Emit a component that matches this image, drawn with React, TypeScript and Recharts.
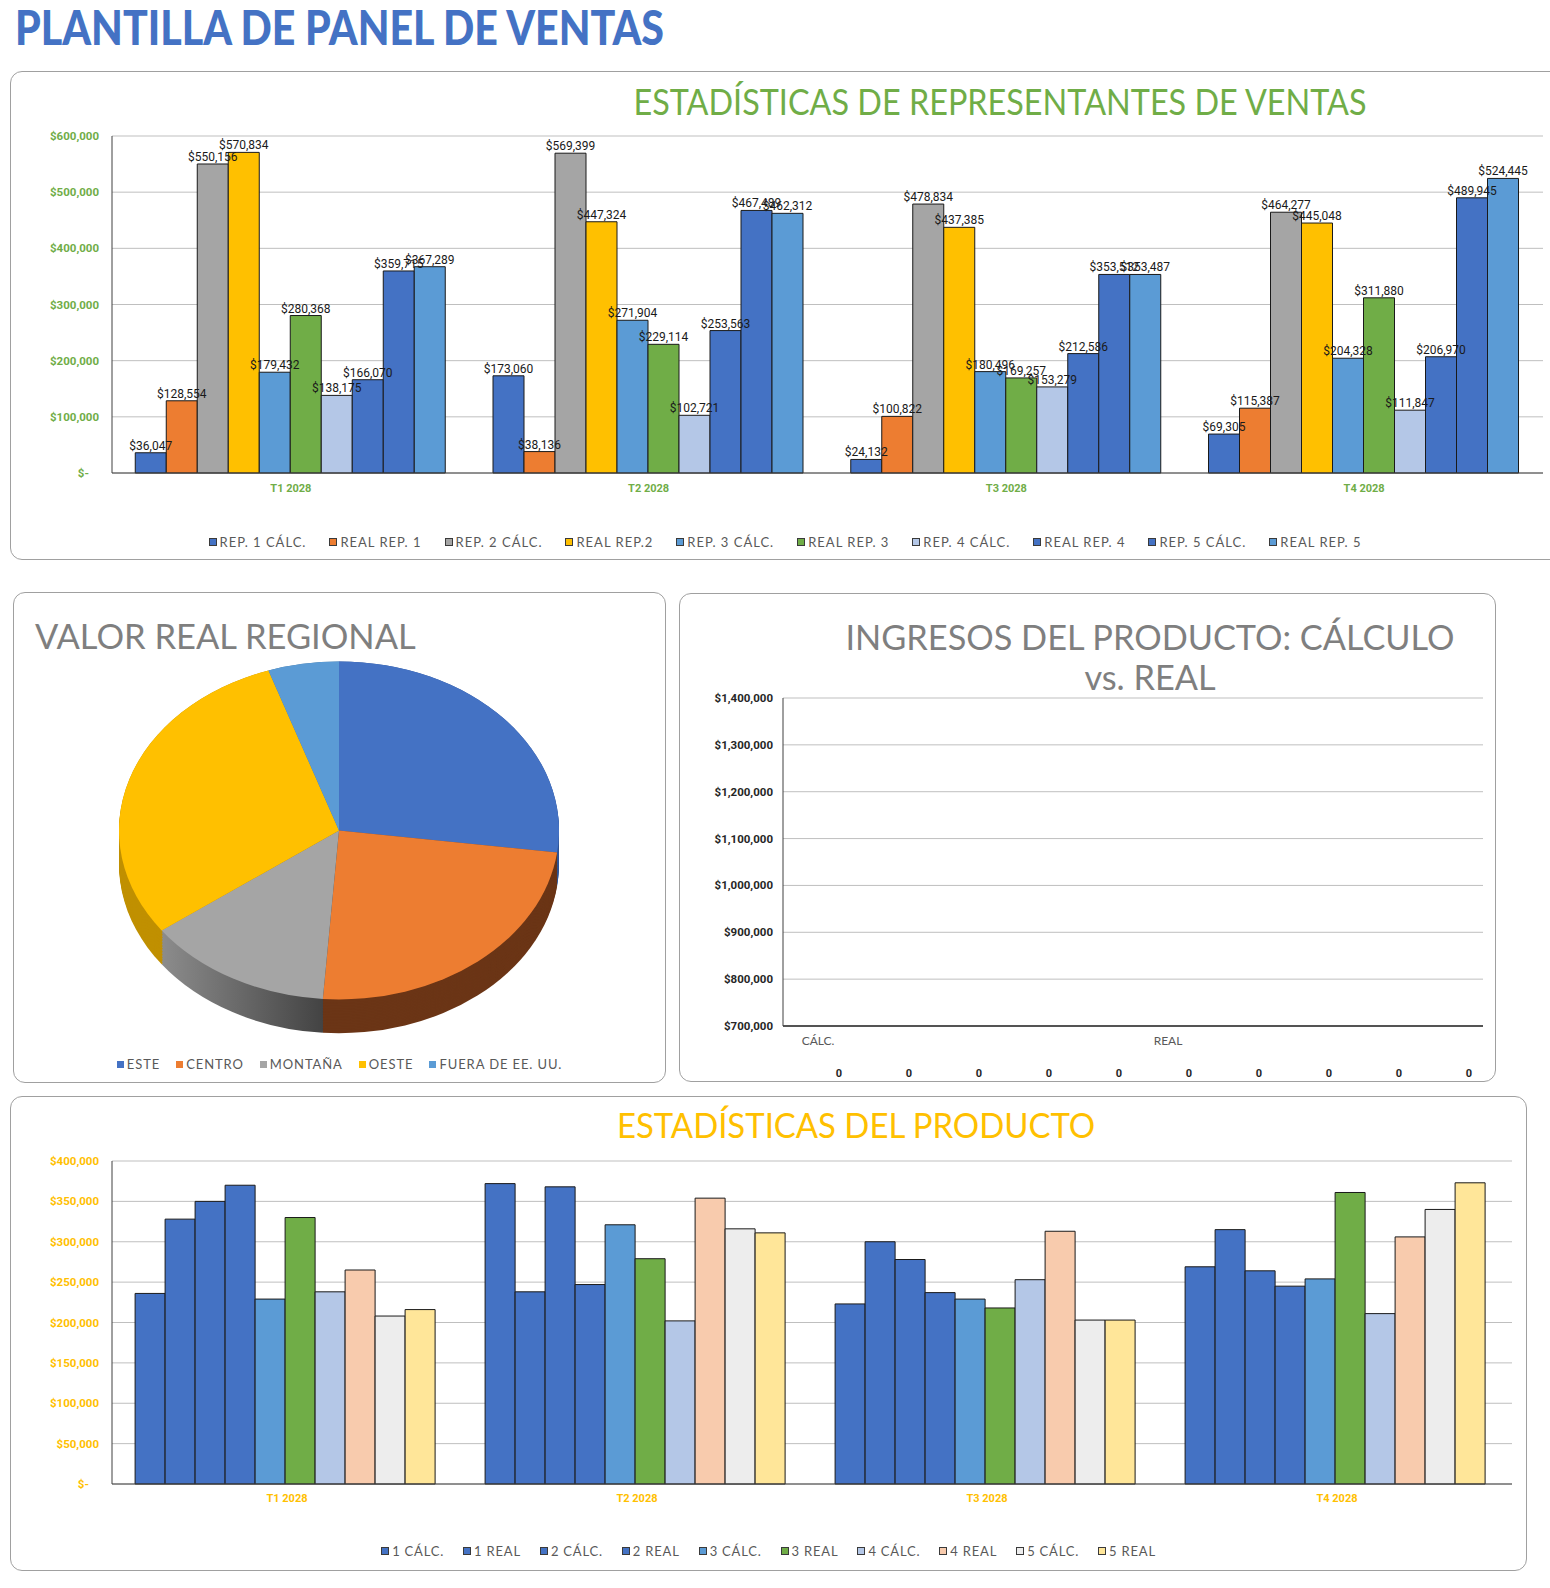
import React from "react";
import { BarChart, Bar, XAxis, YAxis, CartesianGrid, LabelList, PieChart, Pie, Cell } from "recharts";

// ---- top chart: sales reps by quarter ----
const quarters = ["T1 2028", "T2 2028", "T3 2028", "T4 2028"];
const repNames = [
  "REP. 1 CÁLC.", "REAL REP. 1", "REP. 2 CÁLC.", "REAL REP.2", "REP. 3 CÁLC.",
  "REAL REP. 3", "REP. 4 CÁLC.", "REAL REP. 4", "REP. 5 CÁLC.", "REAL REP. 5",
];
const repColors = [
  "#4472C4", "#ED7D31", "#A5A5A5", "#FFC000", "#5B9BD5",
  "#70AD47", "#B4C7E7", "#4472C4", "#4472C4", "#5B9BD5",
];
const rep1Calc = [36047, 173060, 24132, 69305];
const rep1Real = [128554, 38136, 100822, 115387];
const rep2Calc = [550156, 569399, 478834, 464277];
const rep2Real = [570834, 447324, 437385, 445048];
const rep3Calc = [179432, 271904, 180496, 204328];
const rep3Real = [280368, 229114, 169257, 311880];
const rep4Calc = [138175, 102721, 153279, 111847];
const rep4Real = [166070, 253563, 212586, 206970];
const rep5Calc = [359715, 467489, 353512, 489945];
const rep5Real = [367289, 462312, 353487, 524445];
const repValues = [rep1Calc, rep1Real, rep2Calc, rep2Real, rep3Calc, rep3Real, rep4Calc, rep4Real, rep5Calc, rep5Real];
const repTicks = [0, 100000, 200000, 300000, 400000, 500000, 600000];

// ---- pie: regional actuals ----
const regions = ["ESTE", "CENTRO", "MONTAÑA", "OESTE", "FUERA DE EE. UU."];
const regionValues = [1355000, 1205000, 688000, 1495000, 260000];
const regionColors = ["#4472C4", "#ED7D31", "#A5A5A5", "#FFC000", "#5B9BD5"];
const regionSideColors = ["#2F5597", "#6B3516", "url(#montanaSide)", "#C09000", "#41719C"];

// ---- product revenue: estimate vs actual ----
const revenueGroups = ["CÁLC.", "REAL"];
const revenueValues = [0, 0, 0, 0, 0, 0, 0, 0, 0, 0];
const revenueTicks = [700000, 800000, 900000, 1000000, 1100000, 1200000, 1300000, 1400000];

// ---- bottom chart: product stats ----
const prodNames = ["1 CÁLC.", "1 REAL", "2 CÁLC.", "2 REAL", "3 CÁLC.", "3 REAL", "4 CÁLC.", "4 REAL", "5 CÁLC.", "5 REAL"];
const prodColors = [
  "#4472C4", "#4472C4", "#4472C4", "#4472C4", "#5B9BD5",
  "#70AD47", "#B4C7E7", "#F8CBAD", "#EDEDED", "#FFE699",
];
const prod1Calc = [236000, 372000, 223000, 269000];
const prod1Real = [328000, 238000, 300000, 315000];
const prod2Calc = [350000, 368000, 278000, 264000];
const prod2Real = [370000, 247000, 237000, 245000];
const prod3Calc = [229000, 321000, 229000, 254000];
const prod3Real = [330000, 279000, 218000, 361000];
const prod4Calc = [238000, 202000, 253000, 211000];
const prod4Real = [265000, 354000, 313000, 306000];
const prod5Calc = [208000, 316000, 203000, 340000];
const prod5Real = [216000, 311000, 203000, 373000];
const prodValues = [prod1Calc, prod1Real, prod2Calc, prod2Real, prod3Calc, prod3Real, prod4Calc, prod4Real, prod5Calc, prod5Real];
const prodTicks = [0, 50000, 100000, 150000, 200000, 250000, 300000, 350000, 400000];

const repData = quarters.map((q, i) => {
  const row: any = { q };
  repValues.forEach((s, k) => (row["s" + k] = s[i]));
  return row;
});
const prodData = quarters.map((q, i) => {
  const row: any = { q };
  prodValues.forEach((s, k) => (row["s" + k] = s[i]));
  return row;
});
const regionData = regions.map((name, i) => ({ name, value: regionValues[i] }));
const revenueData = revenueValues.map((value, i) => ({
  idx: i,
  group: i % 5 === 0 ? revenueGroups[i / 5] : "",
  value,
}));

const SMALL = "Roboto, 'DejaVu Sans', sans-serif";
const TITLE = "Lato, 'Open Sans', sans-serif";

const money = (v: number) => (v === 0 ? "$-" : "$" + v.toLocaleString("en-US"));

const moneyTick = (color: string, size: number) => (props: any) => {
  const { x, y, payload } = props;
  const v = payload.value;
  return (
    <text
      x={v === 0 ? x - 10 : x}
      y={y}
      dy={4}
      textAnchor="end"
      fill={color}
      fontSize={size}
      fontWeight={700}
      fontFamily={SMALL}
    >
      {money(v)}
    </text>
  );
};

const panel = (left: number, top: number, width: number, height: number): React.CSSProperties => ({
  position: "absolute",
  left,
  top,
  width,
  height,
  border: "1px solid #A0A0A0",
  borderRadius: 12,
  boxSizing: "border-box",
  background: "#fff",
});

// chart titles: centred on cx, squeezed a little to mimic the narrow original face
function Title({ text, cx, top, size, color, squeeze }: any) {
  return (
    <div
      style={{
        position: "absolute",
        left: cx - 600,
        width: 1200,
        top,
        textAlign: "center",
        fontFamily: TITLE,
        fontSize: size,
        lineHeight: size + 6 + "px",
        color,
        whiteSpace: "nowrap",
        transform: `scaleX(${squeeze})`,
        transformOrigin: "center top",
      }}
    >
      {text}
    </div>
  );
}

function SeriesLegend({ names, colors, square, gap, spacing, style, noBorder }: any) {
  return (
    <div
      style={{
        position: "absolute",
        display: "flex",
        justifyContent: "center",
        alignItems: "center",
        gap,
        fontFamily: TITLE,
        fontSize: 13,
        color: "#595959",
        letterSpacing: spacing,
        whiteSpace: "nowrap",
        ...style,
      }}
    >
      {names.map((n: string, i: number) => (
        <span key={i} style={{ display: "flex", alignItems: "center" }}>
          <span
            style={{
              display: "inline-block",
              width: square,
              height: square,
              background: colors[i],
              border: noBorder ? "none" : "1px solid #3a3a3a",
              marginRight: 3,
              boxSizing: "border-box",
            }}
          />
          {n}
        </span>
      ))}
    </div>
  );
}

const depthSteps = Array.from({ length: 23 }, (_, i) => 44 - 2 * i);

export default function App() {
  return (
    <div style={{ position: "absolute", left: 0, top: 0, width: 1550, height: 1588, background: "#fff", overflow: "hidden" }}>
      <div
        style={{
          position: "absolute",
          left: 15,
          top: 2,
          fontFamily: TITLE,
          fontWeight: 900,
          fontSize: 47,
          lineHeight: "50px",
          color: "#4472C4",
          transform: "scaleX(0.875)",
          transformOrigin: "left top",
          whiteSpace: "nowrap",
        }}
      >
        PLANTILLA DE PANEL DE VENTAS
      </div>

      {/* top panel */}
      <div style={panel(10, 71, 1560, 489)} />
      <Title text="ESTADÍSTICAS DE REPRESENTANTES DE VENTAS" cx={1000} top={79} size={37} color="#70AD47" squeeze={0.875} />
      <div style={{ position: "absolute", left: 10, top: 71 }}>
        <BarChart
          width={1540}
          height={489}
          data={repData}
          margin={{ top: 65, right: 7, bottom: 57, left: 0 }}
          barCategoryGap="6.5%"
          barGap={0}
        >
          <CartesianGrid vertical={false} stroke="#BFBFBF" />
          <XAxis
            dataKey="q"
            height={30}
            tickSize={0}
            tickMargin={11}
            axisLine={{ stroke: "#404040" }}
            tick={{ fill: "#70AD47", fontSize: 11, fontWeight: 700, fontFamily: SMALL }}
          />
          <YAxis
            width={102}
            domain={[0, 600000]}
            ticks={repTicks}
            tickSize={0}
            tickMargin={13}
            axisLine={{ stroke: "#404040" }}
            tick={moneyTick("#70AD47", 11.5)}
          />
          {repNames.map((n, k) => (
            <Bar key={n} dataKey={"s" + k} name={n} fill={repColors[k]} stroke="#1a1a1a" strokeWidth={1} isAnimationActive={false}>
              <LabelList
                dataKey={"s" + k}
                position="top"
                offset={3}
                formatter={(v: any) => money(Number(v))}
                style={{ fill: "#1a1a1a", fontSize: 12, fontFamily: SMALL }}
              />
            </Bar>
          ))}
        </BarChart>
      </div>
      <SeriesLegend names={repNames} colors={repColors} square={8} gap={23} spacing={1} style={{ left: 10, width: 1550, top: 533, height: 18 }} />

      {/* pie panel */}
      <div style={panel(13, 592, 653, 491)} />
      <div
        style={{
          position: "absolute",
          left: 35,
          top: 614,
          fontFamily: TITLE,
          fontSize: 34.5,
          lineHeight: "44px",
          color: "#7F7F7F",
          whiteSpace: "nowrap",
        }}
      >
        VALOR REAL REGIONAL
      </div>
      <div
        style={{
          position: "absolute",
          left: 334 - 230,
          top: 650,
          width: 460,
          height: 520,
          transform: "scaleY(0.768)",
          transformOrigin: "left top",
        }}
      >
        <PieChart width={460} height={520}>
          <defs>
            <linearGradient id="montanaSide" x1="0" y1="0" x2="1" y2="0">
              <stop offset="0%" stopColor="#8C8C8C" />
              <stop offset="100%" stopColor="#3C3C3C" />
            </linearGradient>
          </defs>
          {depthSteps.map((d) => (
            <Pie
              key={d}
              data={regionData}
              dataKey="value"
              cx={230}
              cy={230 + d}
              outerRadius={220}
              startAngle={90}
              endAngle={-270}
              stroke="none"
              isAnimationActive={false}
            >
              {regionData.map((r, i) => (
                <Cell key={r.name} fill={regionSideColors[i]} />
              ))}
            </Pie>
          ))}
          <Pie
            data={regionData}
            dataKey="value"
            cx={230}
            cy={230}
            outerRadius={220}
            startAngle={90}
            endAngle={-270}
            stroke="none"
            isAnimationActive={false}
          >
            {regionData.map((r, i) => (
              <Cell key={r.name} fill={regionColors[i]} />
            ))}
          </Pie>
        </PieChart>
      </div>
      <SeriesLegend
        names={regions}
        colors={regionColors}
        square={7}
        gap={16}
        spacing={0.9}
        noBorder
        style={{ left: 13, width: 653, top: 1055, height: 18 }}
      />

      {/* revenue panel */}
      <div style={panel(679, 593, 817, 489)} />
      <Title text="INGRESOS DEL PRODUCTO: CÁLCULO" cx={1150} top={616} size={35} color="#7F7F7F" squeeze={0.98} />
      <Title text="vs. REAL" cx={1150} top={656} size={35} color="#7F7F7F" squeeze={0.98} />
      <div style={{ position: "absolute", left: 679, top: 593 }}>
        <BarChart width={817} height={489} data={revenueData} margin={{ top: 105, right: 13, bottom: 0, left: 0 }}>
          <CartesianGrid vertical={false} stroke="#BFBFBF" />
          <XAxis
            xAxisId="grp"
            dataKey="idx"
            height={30}
            interval={0}
            tickSize={0}
            tickMargin={9}
            axisLine={{ stroke: "#262626", strokeWidth: 1.5 }}
            tick={(p: any) => (
              <text x={p.x} y={p.y} dy={10} textAnchor="middle" fill="#595959" fontSize={12} fontFamily={TITLE}>
                {revenueData[p.payload.value].group}
              </text>
            )}
          />
          <XAxis
            xAxisId="val"
            dataKey="idx"
            height={26}
            interval={0}
            tickSize={0}
            axisLine={false}
            tick={(p: any) => (
              <text x={p.x + 21} y={p.y} dy={19} textAnchor="middle" fill="#262626" fontSize={11} fontWeight={700} fontFamily={SMALL}>
                {String(revenueData[p.payload.value].value)}
              </text>
            )}
          />
          <YAxis
            width={104}
            domain={[700000, 1400000]}
            ticks={revenueTicks}
            allowDataOverflow
            tickSize={0}
            tickMargin={10}
            axisLine={{ stroke: "#404040" }}
            tick={moneyTick("#262626", 11.5)}
          />
          <Bar xAxisId="grp" dataKey="value" fill="#4472C4" isAnimationActive={false} />
        </BarChart>
      </div>

      {/* bottom panel */}
      <div style={panel(10, 1096, 1517, 475)} />
      <Title text="ESTADÍSTICAS DEL PRODUCTO" cx={856} top={1104} size={35} color="#FFC000" squeeze={0.94} />
      <div style={{ position: "absolute", left: 10, top: 1096 }}>
        <BarChart
          width={1517}
          height={475}
          data={prodData}
          margin={{ top: 65, right: 15, bottom: 57, left: 0 }}
          barCategoryGap="6.6%"
          barGap={0}
        >
          <CartesianGrid vertical={false} stroke="#BFBFBF" />
          <XAxis
            dataKey="q"
            height={30}
            tickSize={0}
            tickMargin={10}
            axisLine={{ stroke: "#404040" }}
            tick={{ fill: "#FFC000", fontSize: 11, fontWeight: 700, fontFamily: SMALL }}
          />
          <YAxis
            width={102}
            domain={[0, 400000]}
            ticks={prodTicks}
            tickSize={0}
            tickMargin={13}
            axisLine={{ stroke: "#404040" }}
            tick={moneyTick("#FFC000", 11.5)}
          />
          {prodNames.map((n, k) => (
            <Bar key={n} dataKey={"s" + k} name={n} fill={prodColors[k]} stroke="#1a1a1a" strokeWidth={1} isAnimationActive={false} />
          ))}
        </BarChart>
      </div>
      <SeriesLegend names={prodNames} colors={prodColors} square={8} gap={19} spacing={0.8} style={{ left: 10, width: 1517, top: 1542, height: 18 }} />
    </div>
  );
}
